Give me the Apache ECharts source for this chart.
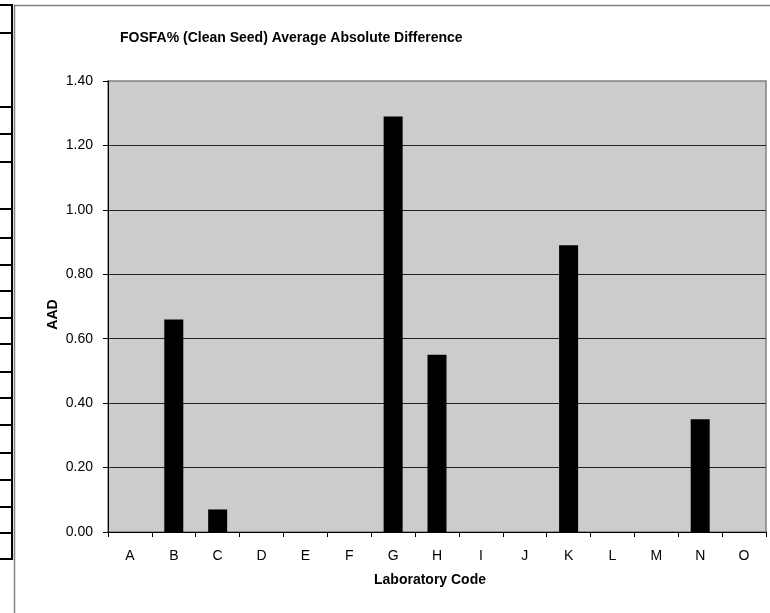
<!DOCTYPE html>
<html>
<head>
<meta charset="utf-8">
<script src="https://cdn.jsdelivr.net/npm/echarts@6/dist/echarts.min.js"></script>
<style>
html,body{margin:0;padding:0;background:#fff;}
#chart{width:770px;height:613px;}
</style>
</head>
<body>
<div id="chart"></div>
<script>
const categories = ['A','B','C','D','E','F','G','H','I','J','K','L','M','N','O'];
const aadValues = [0, 0.66, 0.07, 0, 0, 0, 1.29, 0.55, 0, 0, 0.89, 0, 0, 0.35, 0];
const titleText = 'FOSFA% (Clean Seed) Average Absolute Difference';
const xAxisName = 'Laboratory Code';
const yAxisName = 'AAD';

// decorative spreadsheet cell borders at left edge
const cellLineYs = [5, 33, 107, 134, 162, 209, 238, 265, 291, 318, 344, 372, 398, 425, 453, 480, 507, 533, 559];

const font = '"Liberation Sans", Arial, sans-serif';
const graphics = [];
cellLineYs.forEach(y => {
  graphics.push({type:'line', shape:{x1:0, y1:y, x2:12, y2:y}, style:{stroke:'#000', lineWidth:2}, silent:true});
});
graphics.push({type:'line', shape:{x1:12, y1:4, x2:12, y2:560}, style:{stroke:'#000', lineWidth:2}, silent:true});
graphics.push({type:'rect', shape:{x:14.5, y:5.5, width:900, height:800}, style:{fill:'none', stroke:'#808080', lineWidth:1.5}, silent:true, z:-1});

const chart = echarts.init(document.getElementById('chart'));
chart.setOption({
  animation: false,
  backgroundColor: '#fff',
  title: {
    text: titleText,
    left: 115, top: 26,
    textStyle: {fontFamily: font, fontSize: 14, fontWeight: 'bold', color: '#000'}
  },
  graphic: graphics,
  grid: {
    left: 108, top: 81, right: 4, bottom: 81,
    show: true, backgroundColor: '#cccccc', borderColor: '#808080', borderWidth: 1.5
  },
  xAxis: {
    type: 'category',
    data: categories,
    name: xAxisName,
    nameLocation: 'middle',
    nameGap: 41,
    nameMoveOverlap: false,
    nameTextStyle: {fontFamily: font, fontSize: 14, fontWeight: 'bold', color: '#000', padding: [0, 14, 0, 0]},
    axisLine: {lineStyle: {color: '#000', width: 1}},
    axisTick: {show: true, length: 5, alignWithLabel: false, lineStyle: {color: '#000'}},
    axisLabel: {fontFamily: font, fontSize: 14, color: '#000', margin: 17}
  },
  yAxis: {
    type: 'value',
    min: 0, max: 1.4, interval: 0.2,
    name: yAxisName,
    nameLocation: 'middle',
    nameGap: 48,
    nameMoveOverlap: false,
    nameTextStyle: {fontFamily: font, fontSize: 14, fontWeight: 'bold', color: '#000', padding: [0, 16, 0, 0]},
    axisLine: {show: true, lineStyle: {color: '#000', width: 1}},
    axisTick: {show: true, length: 5, lineStyle: {color: '#000'}},
    axisLabel: {fontFamily: font, fontSize: 14, color: '#000', margin: 15, formatter: v => v.toFixed(2)},
    splitLine: {show: true, showMaxLine: false, lineStyle: {color: '#222', width: 1}}
  },
  series: [{
    type: 'bar',
    data: aadValues,
    barWidth: 19,
    itemStyle: {color: '#000'}
  }]
});
</script>
</body>
</html>
